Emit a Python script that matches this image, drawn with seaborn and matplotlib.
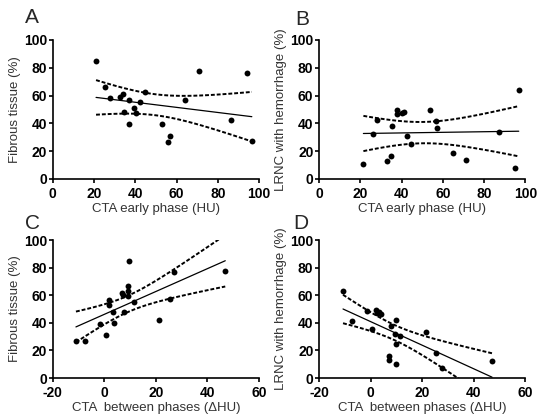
import numpy as np
import matplotlib
matplotlib.use("Agg")
import matplotlib.pyplot as plt
import seaborn as sns

# --- data ---
early_phase_a = [21, 25.5, 27.7, 32.6, 34.2, 34.5, 37.1, 36.9, 39.4, 40.3,
                 42.3, 44.5, 53.2, 56.6, 56.1, 64.2, 70.8, 86.6, 94.4, 96.5]
fibrous_a = [84.8, 66.3, 58, 59, 61.4, 48.2, 56.6, 39.8, 51.3, 47.2,
             55, 62.7, 39.8, 30.8, 26.5, 57.1, 77.6, 42.2, 75.9, 27]

early_phase_b = [21.5, 26, 28.2, 33, 34.8, 35.2, 37.6, 37.6, 40, 41,
                 42.7, 44.8, 53.7, 56.8, 57.1, 64.7, 71.1, 87.3, 94.8, 96.8]
lrnc_b = [10.8, 32.3, 42.7, 12.8, 16.4, 37.8, 49.4, 47, 47.5, 48.2,
          31, 25.3, 49.4, 41.7, 36.6, 18.6, 13.3, 33.5, 7.7, 63.9]

delta_c = [-11, -7.4, -1.7, 0.5, 1.9, 2, 3.4, 3.7, 6.7, 7.3,
           7.8, 9.1, 9.3, 9.3, 9.6, 11.4, 21.2, 25.3, 26.9, 46.9]
fibrous_c = [26.6, 26.6, 39.5, 31, 56.9, 53, 48, 40.2, 61.7, 60,
             48, 66.6, 63, 59.3, 85, 55.2, 41.9, 57.1, 76.5, 77.7]

delta_d = [-10.7, -7.1, -1.5, 0.6, 2.1, 2.4, 3.3, 4, 7.1, 7.1,
           7.9, 9.5, 9.7, 10, 10, 11.3, 21.3, 25.3, 27.5, 47.1]
lrnc_d = [63.4, 41, 48.9, 35.7, 49.4, 47, 48, 46.5, 16.1, 12.8,
          37.8, 32, 42.2, 24.8, 10.4, 30.6, 33.3, 18.1, 7.2, 12.5]

T_CRIT = 2.101  # t(0.975, df=18)

sns.set_style("ticks")
plt.rcParams['font.family'] = ['Liberation Sans', 'DejaVu Sans']
plt.rcParams['axes.unicode_minus'] = False


def reg_panel(ax, x, y, xlim, xticks, xlabel, ylabel):
    x = np.asarray(x, float)
    y = np.asarray(y, float)
    sns.regplot(x=x, y=y, ax=ax, ci=None, truncate=True,
                scatter_kws=dict(s=18, color='black', linewidths=0, alpha=1),
                line_kws=dict(color='black', lw=0.9))
    # 95% confidence band of the fit, drawn as dashed lines
    slope, icpt = np.polyfit(x, y, 1)
    resid = y - (slope * x + icpt)
    s = np.sqrt(np.sum(resid ** 2) / (len(x) - 2))
    sxx = np.sum((x - x.mean()) ** 2)
    xs = np.linspace(x.min(), x.max(), 100)
    fit = slope * xs + icpt
    half = T_CRIT * s * np.sqrt(1 / len(x) + (xs - x.mean()) ** 2 / sxx)
    for band in (fit + half, fit - half):
        ax.plot(xs, band, color='black', lw=1.4, ls=(0, (2, 1)))

    ax.set_xlim(*xlim)
    ax.set_ylim(0, 100)
    ax.set_xticks(xticks)
    ax.set_yticks([0, 20, 40, 60, 80, 100])
    ax.set_xlabel(xlabel, fontsize=9.5, color='#333333', labelpad=2)
    ax.set_ylabel(ylabel, fontsize=9.5, color='#333333', labelpad=2)
    ax.tick_params(length=3, width=1.2, labelsize=10, colors='black')
    ax.tick_params(axis='x', pad=2.5)
    ax.tick_params(axis='y', pad=1)
    for lab in ax.get_xticklabels() + ax.get_yticklabels():
        lab.set_fontweight('bold')
    for sp in ('left', 'bottom'):
        ax.spines[sp].set_linewidth(1.2)
        ax.spines[sp].set_color('black')
    sns.despine(ax=ax)


fig = plt.figure(figsize=(5.38, 4.16), dpi=100)
ax_a = fig.add_axes([0.098, 0.570, 0.3835, 0.334])
ax_b = fig.add_axes([0.593, 0.570, 0.3835, 0.334])
ax_c = fig.add_axes([0.098, 0.0913, 0.3835, 0.3317])
ax_d = fig.add_axes([0.593, 0.0913, 0.3835, 0.3317])

reg_panel(ax_a, early_phase_a, fibrous_a, (0, 100), [0, 20, 40, 60, 80, 100],
          "CTA early phase (HU)", "Fibrous tissue (%)")
reg_panel(ax_b, early_phase_b, lrnc_b, (0, 100), [0, 20, 40, 60, 80, 100],
          "CTA early phase (HU)", "LRNC with hemorrhage (%)")
reg_panel(ax_c, delta_c, fibrous_c, (-20, 60), [-20, 0, 20, 40, 60],
          "CTA  between phases (\u0394HU)", "Fibrous tissue (%)")
reg_panel(ax_d, delta_d, lrnc_d, (-20, 60), [-20, 0, 20, 40, 60],
          "CTA  between phases (\u0394HU)", "LRNC with hemorrhage (%)")

for letter, (px, py) in zip("ABCD", [(25, 8), (295, 10), (25, 214), (293, 214)]):
    fig.text(px / 538, 1 - py / 416, letter, fontsize=15, va='top', ha='left')

fig.savefig("out.png", dpi=100)
